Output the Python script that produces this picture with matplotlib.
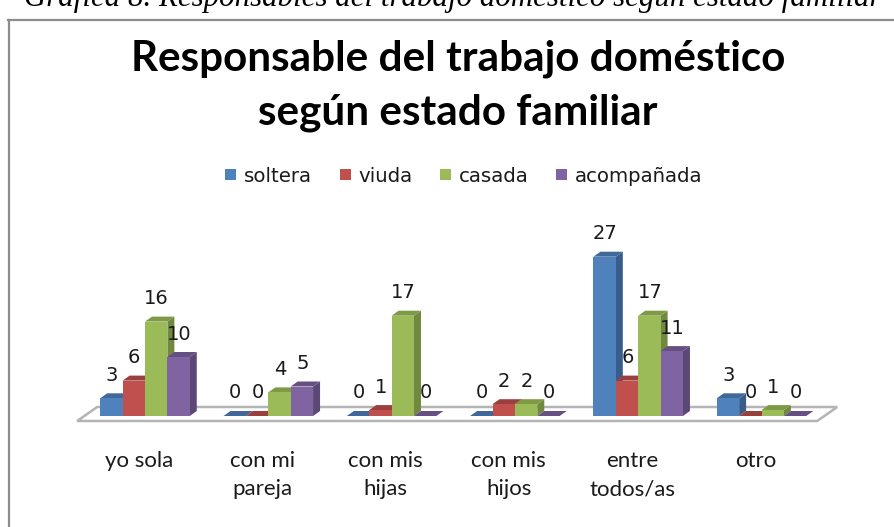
import matplotlib
matplotlib.use("Agg")
import matplotlib.pyplot as plt
from matplotlib.lines import Line2D
from matplotlib.patches import Polygon

categories = ["yo sola", "con mi\npareja", "con mis\nhijas", "con mis\nhijos", "entre\ntodos/as", "otro"]
series_names = ["soltera", "viuda", "casada", "acompañada"]
soltera = [3, 0, 0, 0, 27, 3]
viuda = [6, 0, 1, 2, 6, 0]
casada = [16, 4, 17, 2, 17, 1]
acompanada = [10, 5, 0, 0, 11, 0]
series = [soltera, viuda, casada, acompanada]
front = ["#4F81BD", "#C0504D", "#9BBB59", "#8064A2"]
top = ["#41689A", "#9B3F3D", "#7E9A45", "#664F82"]
side = ["#385D8A", "#8C3A38", "#71893F", "#5C4776"]

W, H = 894, 527
PX_X, PX_Y = 123.3, 5.9
fig = plt.figure(figsize=(W / 100, H / 100), dpi=100)
fig.patch.set_facecolor("white")
xlim = (-0.55, 5.55)
ylim = (0, 30)
ax = fig.add_axes([(145 + xlim[0] * PX_X) / W, (H - 416) / H,
                   (xlim[1] - xlim[0]) * PX_X / W, ylim[1] * PX_Y / H])
ax.set_xlim(*xlim)
ax.set_ylim(*ylim)
ax.patch.set_alpha(0)
for s in ax.spines.values():
    s.set_visible(False)
ax.set_yticks([])

def dx(p):
    return p / PX_X

def dy(p):
    return p / PX_Y

# floor of the 3-D plot
floor = Polygon([(xlim[0], dy(-5)), (xlim[0] + dx(740), dy(-5)),
                 (xlim[0] + dx(760), dy(9)), (xlim[0] + dx(20), dy(9))],
                closed=True, fc="white", ec="#b4b4b4", lw=1.8, clip_on=False, zorder=1)
ax.add_patch(floor)

w = 0.1815
ddx, ddy = dx(7), dy(5)
z = 2
for j, vals in enumerate(series):
    xs = [i + (j - 2) * w for i in range(len(vals))]
    for i, (x, v) in enumerate(zip(xs, vals)):
        ax.add_patch(Polygon([(x + w, 0), (x + w + ddx, ddy), (x + w + ddx, v + ddy), (x + w, v)],
                             closed=True, fc=side[j], ec="none", clip_on=False, zorder=z + j))
        ax.add_patch(Polygon([(x, v), (x + ddx, v + ddy), (x + w + ddx, v + ddy), (x + w, v)],
                             closed=True, fc=top[j], ec="none", clip_on=False, zorder=z + j))
    ax.bar(xs, vals, width=w, align="edge", color=front[j], label=series_names[j], zorder=z + j + 0.5,
           clip_on=False)
    for x, v in zip(xs, vals):
        ax.text(x + w / 2 + dx(0.5), v + dy(23), str(v), ha="center", va="center",
                fontsize=14, family="DejaVu Sans", color="#1a1a1a", zorder=20, clip_on=False)

ax.set_xticks([i - 0.05 for i in range(len(categories))])
ax.set_xticklabels(categories, fontsize=16, family="Lato", color="#1a1a1a", linespacing=1.52)
ax.tick_params(axis="x", length=0, pad=25)
for t in ax.get_xticklabels():
    t.set_va("top")

leg = ax.legend(loc="center", bbox_to_anchor=(464 / W, (H - 176) / H), bbox_transform=fig.transFigure,
                ncol=4, frameon=False, fontsize=14.2, handlelength=0.55, handleheight=0.55,
                handletextpad=0.4, columnspacing=1.4, labelcolor="#1a1a1a", borderpad=0)

fig.text(458 / W, (H - 71) / H, "Responsable del trabajo doméstico", ha="center", va="baseline",
         fontsize=30.4, family="Lato", weight="bold", color="black")
fig.text(458 / W, (H - 124) / H, "según estado familiar", ha="center", va="baseline",
         fontsize=30.4, family="Lato", weight="bold", color="black")
fig.text(453 / W, (H - 6) / H, "Gráfica 8. Responsables del trabajo doméstico según estado familiar",
         ha="center", va="baseline", fontsize=22.2, family="Liberation Serif", style="italic", color="black")

fig.add_artist(Line2D([9 / W, 9 / W], [0, (H - 20) / H], color="#8c8c8c", lw=1.6))
fig.add_artist(Line2D([8 / W, 1], [(H - 20) / H, (H - 20) / H], color="#8c8c8c", lw=1.6))

fig.savefig("out.png", dpi=100)
